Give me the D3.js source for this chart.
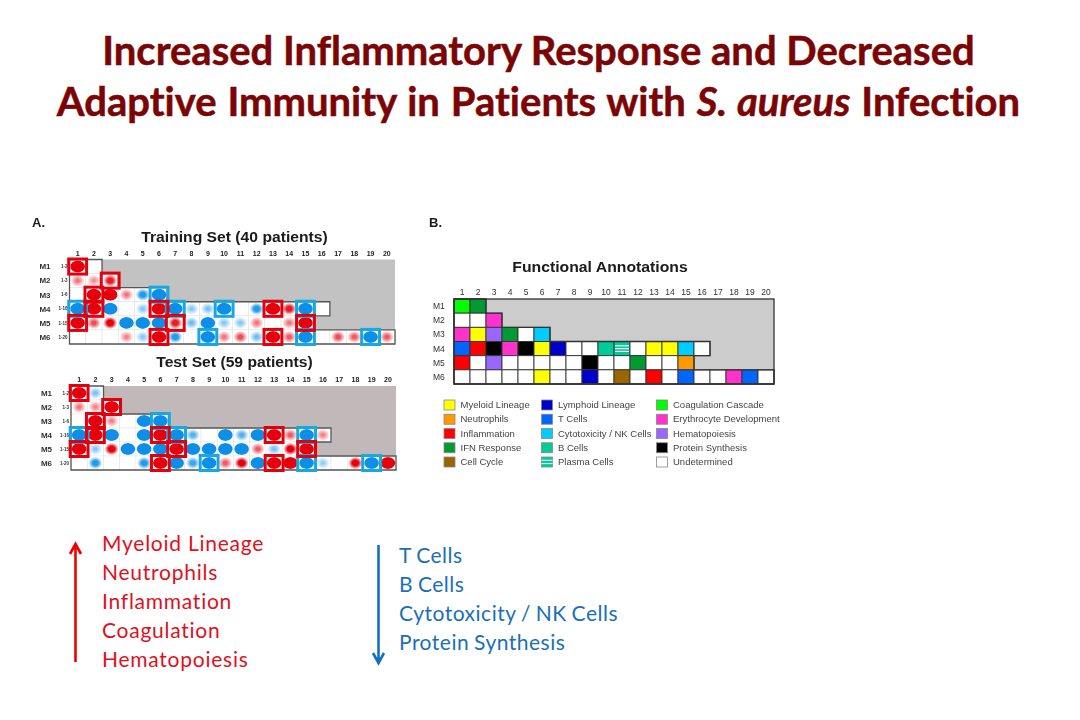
<!DOCTYPE html>
<html><head><meta charset="utf-8">
<script src="https://cdn.jsdelivr.net/npm/d3@7"></script>
<style>html,body{margin:0;padding:0;background:#fff}svg{display:block}text{font-variant-ligatures:none}</style>
</head><body><svg id="c" width="1080" height="720"></svg>
<script>
const moduleRows = ["M1","M2","M3","M4","M5","M6"];
const moduleRanges = ["1-2","1-3","1-6","1-16","1-15","1-20"];
const moduleCols = d3.range(1,21);

const trainM1 = [.9,0];
const trainM2 = [.35,.25,.7];
const trainM3 = [0,1,1,.35,-.7,-1];
const trainM4 = [-1,1,-1,0,-.3,1,-1,-.3,-.35,-1,0,-.7,1,.7,-1,0];
const trainM5 = [1,.5,.8,-1,-1,-1,.7,-.4,-.9,-.3,-.3,.35,0,.35,1];
const trainM6 = [0,0,0,.3,-.3,1,-.7,0,-1,.35,.5,-.4,1,.45,-1,0,.5,.45,-1,.45];
const trainValues = [trainM1,trainM2,trainM3,trainM4,trainM5,trainM6];

const testM1 = [1,-.35];
const testM2 = [.35,.3,1];
const testM3 = [0,1,.3,0,-1,-1];
const testM4 = [-1,1,-1,0,-1,1,-1,-.5,0,-1,-.5,-1,1,.45,-1,.3];
const testM5 = [1,-.3,.8,-1,-1,-1,1,-1,-1,-1,-.95,.45,-.35,.8,1];
const testM6 = [0,-.7,0,0,-.7,1,-1,-.6,-1,.45,.8,-1,1,1,-1,-.25,0,.8,-1,1];
const testValues = [testM1,testM2,testM3,testM4,testM5,testM6];

const redFrames = [[1,1],[2,3],[3,2],[4,2],[4,6],[4,13],[5,1],[5,7],[5,15],[6,6],[6,13]];
const blueFramesTrain = [[3,6],[4,1],[4,7],[4,10],[4,15],[6,9],[6,15],[6,19]];
const blueFramesTest = [[3,6],[4,1],[4,7],[4,15],[6,9],[6,15],[6,19]];

const annM1 = ["coag","ifn"];
const annM2 = ["und","und","ery"];
const annM3 = ["ery","mye","hem","ifn","und","cyt"];
const annM4 = ["tc","inf","pro","ery","pro","mye","lym","und","und","bc","pla","und","mye","mye","cyt","und"];
const annM5 = ["inf","und","hem","und","und","und","und","und","pro","und","und","ifn","und","und","neu"];
const annM6 = ["und","und","und","und","und","mye","und","und","lym","und","cc","und","inf","und","tc","und","und","ery","tc","und"];
const annotations = [annM1,annM2,annM3,annM4,annM5,annM6];

const legendKeys = ["mye","neu","inf","ifn","cc","lym","tc","cyt","bc","pla","coag","ery","hem","pro","und"];
const legendLabels = ["Myeloid Lineage","Neutrophils","Inflammation","IFN Response","Cell Cycle","Lymphoid Lineage","T Cells","Cytotoxicity / NK Cells","B Cells","Plasma Cells","Coagulation Cascade","Erythrocyte Development","Hematopoiesis","Protein Synthesis","Undetermined"];
const legendColors = ["#ffff00","#ff9900","#ff0000","#009933","#996600","#0000cc","#0066ff","#00ccff","#00cc99","#00cc99","#00ff00","#ff33cc","#9966ff","#000000","#ffffff"];

const upList = ["Myeloid Lineage","Neutrophils","Inflammation","Coagulation","Hematopoiesis"];
const downList = ["T Cells","B Cells","Cytotoxicity / NK Cells","Protein Synthesis"];

const svg = d3.select("#c");
const defs = svg.append("defs");
defs.append("filter").attr("id","soft").append("feGaussianBlur").attr("stdDeviation",0.35);
const HEAD = "'Liberation Sans',Arial,sans-serif";
const SLIDE = "Lato,'Open Sans',sans-serif";
const TITLE = "#7b0404";
const RED="#e5000f", BLUE="#0a8fe8", FR="#e2000f", FB="#19a8e2";

const color = d3.scaleOrdinal(legendKeys, legendColors);
const gradId = v => "g"+(v<0?"n":"p")+Math.round(Math.abs(v)*100);
const allV = Array.from(new Set(trainValues.concat(testValues).flat().filter(v=>v!==0)));
allV.forEach(v=>{
  const a=Math.abs(v), c=v<0?BLUE:RED;
  const g=defs.append("radialGradient").attr("id",gradId(v));
  const core = a>=.9 ? .9 : a*.55;
  const top = Math.min(1,a+.2);
  g.append("stop").attr("offset",0).attr("stop-color",c).attr("stop-opacity",top);
  g.append("stop").attr("offset",core).attr("stop-color",c).attr("stop-opacity",top);
  g.append("stop").attr("offset",1).attr("stop-color",c).attr("stop-opacity",a>=.9?0.7:0);
});

function outlinePath(x,y,counts){
  const bw=x.bandwidth(), bh=y.bandwidth();
  const x0=x(1), path=d3.path();
  path.moveTo(x0,y("M1"));
  counts.forEach((n,i)=>{
    const r=x0+n*bw, t=y(moduleRows[i]);
    path.lineTo(r,t); path.lineTo(r,t+bh);
  });
  path.lineTo(x0,y("M6")+bh); path.closePath();
  return path.toString();
}

function frame(x0,x1,y0,y1,grey,pad){
  const g=svg.append("g").attr("filter","url(#soft)");
  const x=d3.scaleBand().domain(moduleCols).range([x0,x1]);
  const y=d3.scaleBand().domain(moduleRows).range([y0,y1]);
  g.append("rect").attr("x",x0).attr("y",y0).attr("width",x1-x0).attr("height",y1-y0).attr("fill",grey);
  const axis=d3.axisTop(x).tickSize(0).tickPadding(pad);
  return {g,x,y,axis};
}

function moduleGrid(values,x0,x1,y0,y1,grey,frames){
  const {g,x,y,axis}=frame(x0,x1,y0,y1,grey,4);
  const cells=values.flatMap((r,i)=>r.map((v,j)=>({row:moduleRows[i],col:j+1,v})));
  g.selectAll(".cell").data(cells).join("rect").attr("x",d=>x(d.col)).attr("y",d=>y(d.row))
    .attr("width",x.bandwidth()).attr("height",y.bandwidth()).attr("fill","#fff").attr("stroke","#e3e6e9").attr("stroke-width",.6);
  g.selectAll(".spot").data(cells.filter(d=>d.v!==0)).join("ellipse")
    .attr("cx",d=>x(d.col)+x.bandwidth()/2).attr("cy",d=>y(d.row)+y.bandwidth()/2)
    .attr("rx",d=>Math.abs(d.v)>=.9?7.4:7).attr("ry",d=>Math.abs(d.v)>=.9?6:6.2)
    .attr("fill",d=>`url(#${gradId(d.v)})`);
  g.append("path").attr("d",outlinePath(x,y,values.map(r=>r.length))).attr("fill","none").attr("stroke","#555").attr("stroke-width",1.3);
  const ax=g.append("g").attr("transform",`translate(0,${y0})`).call(axis);
  ax.select(".domain").remove();
  ax.selectAll("text").attr("font-family",HEAD).attr("font-weight","bold").attr("font-size",7).attr("fill","#222");
  g.selectAll(".rl").data(moduleRows).join("text").attr("x",x0-19).attr("y",d=>y(d)+y.bandwidth()/2+2.8)
    .attr("text-anchor","end").attr("font-family",HEAD).attr("font-weight","bold").attr("font-size",8).attr("fill","#333").text(d=>d);
  g.selectAll(".rr").data(moduleRanges).join("text").attr("x",x0-2).attr("y",(d,i)=>y(moduleRows[i])+y.bandwidth()/2+1.7)
    .attr("text-anchor","end").attr("font-family",HEAD).attr("font-weight","bold").attr("font-size",4.5).attr("fill","#333").text(d=>d);
  const drawFrames=(list,c)=>g.selectAll(null).data(list).join("rect")
    .attr("x",d=>x(d[1])-.8).attr("y",d=>y(moduleRows[d[0]-1])-.5)
    .attr("width",x.bandwidth()+1.6).attr("height",y.bandwidth()+1).attr("fill","none").attr("stroke",c).attr("stroke-width",3);
  drawFrames(frames[1],FB); drawFrames(frames[0],FR);
}

// Text
const title=svg.append("g").attr("font-family",SLIDE).attr("font-weight",700).attr("font-size",40).attr("fill",TITLE).attr("stroke",TITLE).attr("stroke-width",.5).attr("text-anchor","middle");
title.append("text").attr("x",538.5).attr("y",65).text("Increased Inflammatory Response and Decreased");
const t2=title.append("text").attr("x",538.5).attr("y",115.5).attr("word-spacing",1.2);
t2.append("tspan").text("Adaptive Immunity in Patients with ");
t2.append("tspan").attr("font-style","italic").text("S. aureus");
t2.append("tspan").text(" Infection");

const hdr=(t,x,y,s,a,sx)=>svg.append("text").attr("transform",`translate(${x},${y}) scale(${sx||1},1)`).attr("font-family",HEAD).attr("font-weight","bold").attr("font-size",s).attr("fill","#1a1a1a").attr("text-anchor",a||"start").attr("filter","url(#soft)").text(t);
hdr("A.",32,227,13); hdr("B.",429,227,13);
hdr("Training Set (40 patients)",234.5,241.5,14.2,"middle",1.105);
hdr("Test Set (59 patients)",234.5,367,14.2,"middle",1.105);
hdr("Functional Annotations",600,272,14.2,"middle",1.11);

moduleGrid(trainValues,69.5,395,259.5,344,"#c2c2c2",[redFrames,blueFramesTrain]);
moduleGrid(testValues,71,396,386,470,"#c1b9b9",[redFrames,blueFramesTest]);

// Panel B
{
  const {g,x,y,axis}=frame(454,774,299,384,"#cccccc",4);
  const cells=annotations.flatMap((r,i)=>r.map((k,j)=>({row:moduleRows[i],col:j+1,k})));
  g.selectAll(".c").data(cells).join("rect").attr("x",d=>x(d.col)).attr("y",d=>y(d.row))
    .attr("width",x.bandwidth()).attr("height",y.bandwidth()).attr("fill",d=>color(d.k)).attr("stroke","#333").attr("stroke-width",.9);
  const stripes=[.3,.5,.7];
  const pla=cells.filter(d=>d.k==="pla");
  pla.forEach(d=>stripes.forEach(f=>g.append("rect").attr("x",x(d.col)+1).attr("width",x.bandwidth()-2)
     .attr("y",y(d.row)+y.bandwidth()*f-.6).attr("height",1.2).attr("fill","#fff")));
  g.append("path").attr("d",outlinePath(x,y,annotations.map(r=>r.length))).attr("fill","none").attr("stroke","#333").attr("stroke-width",1.3);
  g.append("rect").attr("x",454).attr("y",299).attr("width",320).attr("height",85).attr("fill","none").attr("stroke","#333").attr("stroke-width",1.3);
  const ax=g.append("g").attr("transform","translate(0,299)").call(axis);
  ax.select(".domain").remove();
  ax.selectAll("text").attr("font-family",HEAD).attr("font-size",8.5).attr("fill","#333");
  g.selectAll(".rl").data(moduleRows).join("text").attr("x",433).attr("y",d=>y(d)+y.bandwidth()/2+3)
    .attr("font-family",HEAD).attr("font-size",8.5).attr("fill","#333").text(d=>d);

  // Legend
  const lg=svg.append("g").attr("filter","url(#soft)");
  const colX=[444,541.5,656.5], rowY=d3.scaleLinear().domain([0,4]).range([405,462]);
  const items=legendKeys.map((k,i)=>({k,label:legendLabels[i],c:Math.floor(i/5),r:i%5}));
  lg.selectAll(".sw").data(items).join("rect").attr("x",d=>colX[d.c]).attr("y",d=>rowY(d.r)-5)
    .attr("width",11).attr("height",10).attr("fill",d=>color(d.k)).attr("stroke","#888").attr("stroke-width",.8);
  items.filter(d=>d.k==="pla").forEach(d=>[3.3,6.6].forEach(o=>lg.append("rect").attr("x",colX[d.c]).attr("y",rowY(d.r)-5+o-.5).attr("width",11).attr("height",1).attr("fill","#fff")));
  lg.selectAll(".lt").data(items).join("text").attr("x",d=>colX[d.c]+16.5).attr("y",d=>rowY(d.r)+3.2)
    .attr("font-family",HEAD).attr("font-size",9.5).attr("fill","#444").text(d=>d.label);
}

// Bottom lists
const listY=(n,start)=>d3.scaleLinear().domain([0,n-1]).range([start,start+29*(n-1)]);
const upY=listY(upList.length,551), downY=listY(downList.length,562.5);
svg.selectAll(".up").data(upList).join("text").attr("x",102).attr("y",(d,i)=>upY(i))
  .attr("font-family",SLIDE).attr("font-size",21).attr("letter-spacing",.75).attr("fill","#e0101c").text(d=>d);
svg.selectAll(".dn").data(downList).join("text").attr("x",399).attr("y",(d,i)=>downY(i))
  .attr("font-family",SLIDE).attr("font-size",21).attr("letter-spacing",.5).attr("word-spacing",-1).attr("fill","#1a6fb8").text(d=>d);

function arrow(x,y0,y1,c,w){
  const d=y1>y0?1:-1, h=d3.path();
  h.moveTo(x,y0); h.lineTo(x,y1);
  h.moveTo(x-5.5,y1-d*10); h.lineTo(x,y1); h.lineTo(x+5.5,y1-d*10);
  svg.append("path").attr("d",h.toString()).attr("fill","none").attr("stroke",c).attr("stroke-width",w);
}
arrow(75.5,662,544,"#ee0000",2.6);
arrow(378.5,545,663,"#1270bd",2.6);
</script></body></html>
